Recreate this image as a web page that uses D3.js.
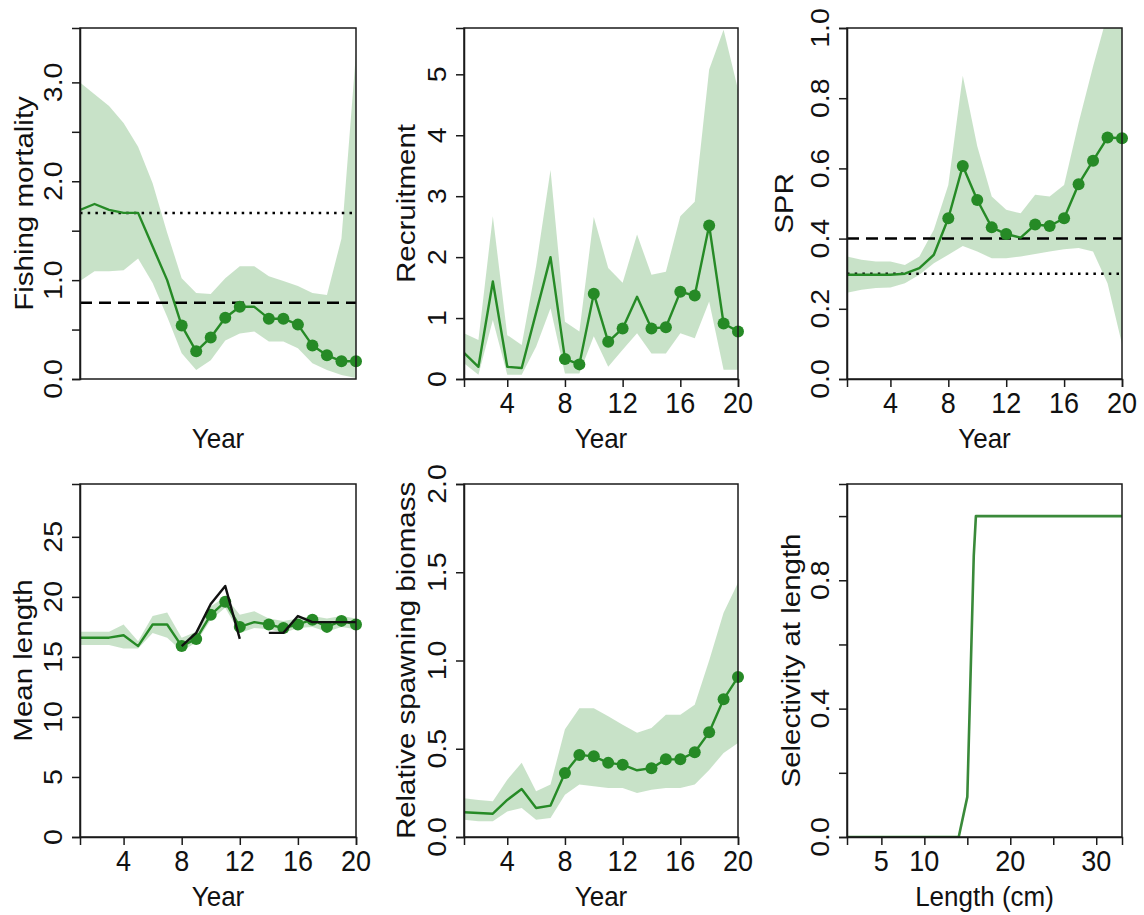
<!DOCTYPE html>
<html>
<head>
<meta charset="utf-8">
<script src="https://cdn.jsdelivr.net/npm/d3@7"></script>
<style>
  html, body { margin: 0; padding: 0; background: #fff; }
  svg { display: block; font-family: "Liberation Sans", Arial, sans-serif; }
</style>
</head>
<body>
<svg id="chart" width="1144" height="915"></svg>
<script>
// ---------------- DATA ----------------
const years = [1,2,3,4,5,6,7,8,9,10,11,12,13,14,15,16,17,18,19,20];
const dotYears = [8,9,10,11,12,14,15,16,17,18,19,20];

// Fishing mortality
const fEst   = [1.71,1.77,1.71,1.68,1.68,1.34,1.00,0.54,0.28,0.42,0.62,0.73,0.73,0.61,0.61,0.55,0.34,0.24,0.18,0.18];
const fUpper = [3.00,2.88,2.76,2.59,2.35,1.98,1.48,1.02,0.87,0.86,1.02,1.14,1.14,1.04,0.99,0.94,0.87,0.85,1.42,3.30];
const fLower = [0.99,1.09,1.09,1.10,1.22,0.97,0.63,0.26,0.09,0.19,0.39,0.46,0.48,0.38,0.38,0.31,0.16,0.09,0.04,0.01];
const fRef = { dotted: 1.68, dashed: 0.77 };

// Recruitment
const recEst   = [0.43,0.20,1.60,0.20,0.18,1.09,2.00,0.33,0.24,1.40,0.61,0.83,1.35,0.83,0.85,1.43,1.37,2.52,0.91,0.78];
const recUpper = [0.75,0.64,2.67,0.72,0.56,1.85,3.43,0.94,0.78,2.66,1.82,1.58,2.37,1.71,1.76,2.67,2.91,5.08,5.73,4.75];
const recLower = [0.26,0.07,0.97,0.07,0.07,0.53,1.16,0.09,0.09,0.70,0.20,0.48,0.75,0.42,0.42,0.75,0.67,1.27,0.15,0.15];

// SPR
const sprEst   = [0.297,0.297,0.297,0.297,0.300,0.316,0.354,0.458,0.607,0.510,0.432,0.413,0.403,0.440,0.436,0.458,0.555,0.622,0.688,0.686];
const sprUpper = [0.349,0.340,0.335,0.335,0.325,0.349,0.425,0.553,0.864,0.663,0.520,0.482,0.472,0.525,0.520,0.553,0.729,0.890,1.040,1.100];
const sprLower = [0.246,0.254,0.259,0.261,0.273,0.297,0.330,0.354,0.379,0.363,0.344,0.344,0.349,0.356,0.363,0.370,0.373,0.363,0.273,0.100];
const sprRef = { dashed: 0.40, dotted: 0.30 };

// Mean length
const mlEst   = [16.6,16.6,16.6,16.8,15.9,17.7,17.7,15.9,16.5,18.5,19.6,17.5,17.9,17.7,17.4,17.7,18.1,17.5,18.0,17.7];
const mlUpper = [17.1,17.1,17.1,17.7,16.3,18.4,18.7,16.6,17.1,19.2,20.0,18.5,18.8,18.2,18.0,18.2,18.4,18.2,18.4,18.2];
const mlLower = [16.0,16.0,16.0,15.7,15.7,17.0,16.6,15.5,16.2,18.1,19.1,17.0,17.4,17.3,17.0,17.4,17.5,17.1,17.5,17.3];
const mlObs   = [null,null,null,null,null,null,null,15.9,17.0,19.4,20.9,16.5,null,17.0,17.0,18.4,17.9,17.9,17.9,17.9];

// Relative spawning biomass
const sbEst   = [0.140,0.136,0.132,0.210,0.272,0.164,0.178,0.363,0.465,0.457,0.420,0.410,0.378,0.390,0.440,0.440,0.480,0.593,0.780,0.906];
const sbUpper = [0.220,0.210,0.202,0.325,0.420,0.259,0.297,0.610,0.730,0.730,0.684,0.636,0.590,0.617,0.693,0.693,0.750,1.000,1.270,1.440];
const sbLower = [0.098,0.089,0.089,0.145,0.164,0.098,0.108,0.240,0.297,0.287,0.278,0.278,0.249,0.268,0.278,0.278,0.297,0.380,0.476,0.533];

// Selectivity at length
const selLength = [1, 14, 15, 15.75, 16, 33];
const selValue  = [0, 0, 0.125, 0.876, 1, 1];

// Tick values / labels
const yearTicks = [4, 8, 12, 16, 20];
const fTicks = [0, 0.5, 1, 1.5, 2, 2.5, 3];
const fTickLabels = ["0.0", "", "1.0", "", "2.0", "", "3.0"];
const recTicks = [0, 1, 2, 3, 4, 5];
const sprTicks = [0, 0.2, 0.4, 0.6, 0.8, 1.0];
const mlTicks = [0, 5, 10, 15, 20, 25];
const sbTicks = [0, 0.5, 1.0, 1.5, 2.0];
const selYTicks = [0, 0.2, 0.4, 0.6, 0.8, 1.0];
const selYTickLabels = ["0.0", "", "0.4", "", "0.8", ""];
const selXTicks = [5, 10, 15, 20, 25, 30];
const selXTickLabels = ["5", "10", "", "20", "", "30"];

// ---------------- STYLE ----------------
const GREEN = "#268a26";
const SELGREEN = "#3a8a3a";
const BAND = "rgba(34,139,34,0.25)";
const AXIS = "#1a1a1a";

const svg = d3.select("#chart");
svg.append("rect").attr("width", 1144).attr("height", 915).attr("fill", "#fff");

let clipId = 0;

function panel(opt) {
  const { x0, x1, y0, y1 } = opt.box;
  const xs = d3.scaleLinear().domain(opt.xDomain).range([x0, x1]);
  const ys = d3.scaleLinear().domain(opt.yDomain).range([y1, y0]);
  const g = svg.append("g");
  const id = "clip" + (clipId++);
  g.append("clipPath").attr("id", id).append("rect")
    .attr("x", x0).attr("y", y0).attr("width", x1 - x0).attr("height", y1 - y0);
  const plot = g.append("g").attr("clip-path", `url(#${id})`);

  // band
  if (opt.upper) {
    const area = d3.area()
      .x((d, i) => xs(opt.x[i]))
      .y0((d, i) => ys(opt.lower[i]))
      .y1((d, i) => ys(opt.upper[i]));
    plot.append("path").datum(opt.upper).attr("d", area).attr("fill", BAND).attr("stroke", "none");
  }
  // reference lines
  (opt.refs || []).forEach(r => {
    plot.append("line")
      .attr("x1", x0).attr("x2", x1).attr("y1", ys(r.v)).attr("y2", ys(r.v))
      .attr("stroke", "#000").attr("stroke-width", 2.5)
      .attr("stroke-dasharray", r.type === "dashed" ? "12,7" : "2.5,5.2");
  });
  // estimate line
  const line = d3.line().defined(d => d[1] != null).x(d => xs(d[0])).y(d => ys(d[1]));
  plot.append("path").datum(opt.x.map((v, i) => [v, opt.est[i]]))
    .attr("d", line).attr("fill", "none").attr("stroke", opt.lineColor || GREEN)
    .attr("stroke-width", opt.lineWidth || 2.4)
    .attr("stroke-linejoin", "round");
  // dots (not clipped)
  if (opt.dots) {
    const pts = opt.dots.map(yr => [yr, opt.est[opt.x.indexOf(yr)]]);
    g.selectAll(null).data(pts).enter().append("circle")
      .attr("cx", d => xs(d[0])).attr("cy", d => ys(d[1])).attr("r", 6).attr("fill", GREEN);
  }
  // observed line
  if (opt.obs) {
    g.append("path").datum(opt.x.map((v, i) => [v, opt.obs[i]]))
      .attr("d", line).attr("fill", "none").attr("stroke", "#111").attr("stroke-width", 2.4)
      .attr("stroke-linejoin", "round");
  }
  // box
  g.append("rect").attr("x", x0).attr("y", y0).attr("width", x1 - x0).attr("height", y1 - y0)
    .attr("fill", "none").attr("stroke", AXIS).attr("stroke-width", 1.5);

  // y axis
  const yAxis = d3.axisLeft(ys).tickValues(opt.yTicks).tickSize(8).tickFormat(() => "");
  const ya = g.append("g").attr("transform", `translate(${x0},0)`).call(yAxis);
  ya.select(".domain").attr("stroke", AXIS).attr("stroke-width", 1.5);
  ya.selectAll(".tick line").attr("stroke", AXIS).attr("stroke-width", 1.5);
  opt.yTicks.forEach((t, i) => {
    const lab = opt.yLabels[i];
    if (!lab) return;
    g.append("text")
      .attr("transform", `translate(${x0 - 18},${ys(t)}) rotate(-90) scale(1.14,1)`)
      .attr("text-anchor", "middle").attr("font-size", 25).attr("fill", "#111").text(lab);
  });
  // y title
  g.append("text")
    .attr("transform", `translate(${x0 - opt.titleGap},${(y0 + y1) / 2}) rotate(-90) scale(1.18,1)`)
    .attr("text-anchor", "middle").attr("font-size", 25).attr("fill", "#111").text(opt.yTitle);

  // x axis
  if (opt.xTicks) {
    const xAxis = d3.axisBottom(xs).tickValues(opt.xTicks).tickSize(8).tickFormat(() => "");
    const xa = g.append("g").attr("transform", `translate(0,${y1})`).call(xAxis);
    xa.select(".domain").attr("stroke", AXIS).attr("stroke-width", 1.5);
    xa.selectAll(".tick line").attr("stroke", AXIS).attr("stroke-width", 1.5);
    opt.xTicks.forEach((t, i) => {
      const lab = opt.xLabels[i];
      if (!lab) return;
      g.append("text")
        .attr("transform", `translate(${xs(t)},${y1 + 34}) scale(1,1.1)`)
        .attr("text-anchor", "middle").attr("font-size", 27).attr("fill", "#111").text(lab);
    });
  }
  g.append("text")
    .attr("transform", `translate(${(x0 + x1) / 2},${y1 + 69}) scale(1,1.08)`)
    .attr("text-anchor", "middle").attr("font-size", 26).attr("fill", "#111").text(opt.xTitle);
}

const row1 = { y0: 28, y1: 379 };
const row2 = { y0: 484, y1: 837 };
const col1 = { x0: 80, x1: 356 };
const col2 = { x0: 464, x1: 738 };
const col3 = { x0: 847, x1: 1122 };

panel({
  box: { ...col1, ...row1 }, xDomain: [1, 20], yDomain: [0, 3.55],
  x: years, est: fEst, upper: fUpper, lower: fLower, dots: dotYears,
  refs: [{ v: fRef.dotted, type: "dotted" }, { v: fRef.dashed, type: "dashed" }],
  yTicks: fTicks, yLabels: fTickLabels, yTitle: "Fishing mortality", titleGap: 47,
  xTicks: null, xTitle: "Year"
});

panel({
  box: { ...col2, ...row1 }, xDomain: [1, 20], yDomain: [0, 5.76],
  x: years, est: recEst, upper: recUpper, lower: recLower, dots: dotYears,
  yTicks: recTicks, yLabels: recTicks.map(String), yTitle: "Recruitment", titleGap: 49,
  xTicks: yearTicks, xLabels: yearTicks.map(String), xTitle: "Year"
});

panel({
  box: { ...col3, ...row1 }, xDomain: [1, 20], yDomain: [0, 1],
  x: years, est: sprEst, upper: sprUpper, lower: sprLower, dots: dotYears,
  refs: [{ v: sprRef.dashed, type: "dashed" }, { v: sprRef.dotted, type: "dotted" }],
  yTicks: sprTicks, yLabels: sprTicks.map(d => d.toFixed(1)), yTitle: "SPR", titleGap: 54,
  xTicks: yearTicks, xLabels: yearTicks.map(String), xTitle: "Year"
});

panel({
  box: { ...col1, ...row2 }, xDomain: [1, 20], yDomain: [0, 29.4],
  x: years, est: mlEst, upper: mlUpper, lower: mlLower, dots: dotYears, obs: mlObs,
  yTicks: mlTicks, yLabels: mlTicks.map(String), yTitle: "Mean length", titleGap: 48,
  xTicks: yearTicks, xLabels: yearTicks.map(String), xTitle: "Year"
});

panel({
  box: { ...col2, ...row2 }, xDomain: [1, 20], yDomain: [0, 2],
  x: years, est: sbEst, upper: sbUpper, lower: sbLower, dots: dotYears,
  yTicks: sbTicks, yLabels: sbTicks.map(d => d.toFixed(1)), yTitle: "Relative spawning biomass", titleGap: 49,
  xTicks: yearTicks, xLabels: yearTicks.map(String), xTitle: "Year"
});

panel({
  box: { ...col3, ...row2 }, xDomain: [1, 33], yDomain: [0, 1.1],
  x: selLength, est: selValue, lineColor: SELGREEN, lineWidth: 2.6,
  yTicks: selYTicks, yLabels: selYTickLabels, yTitle: "Selectivity at length", titleGap: 47,
  xTicks: selXTicks, xLabels: selXTickLabels, xTitle: "Length (cm)"
});
</script>
</body>
</html>
